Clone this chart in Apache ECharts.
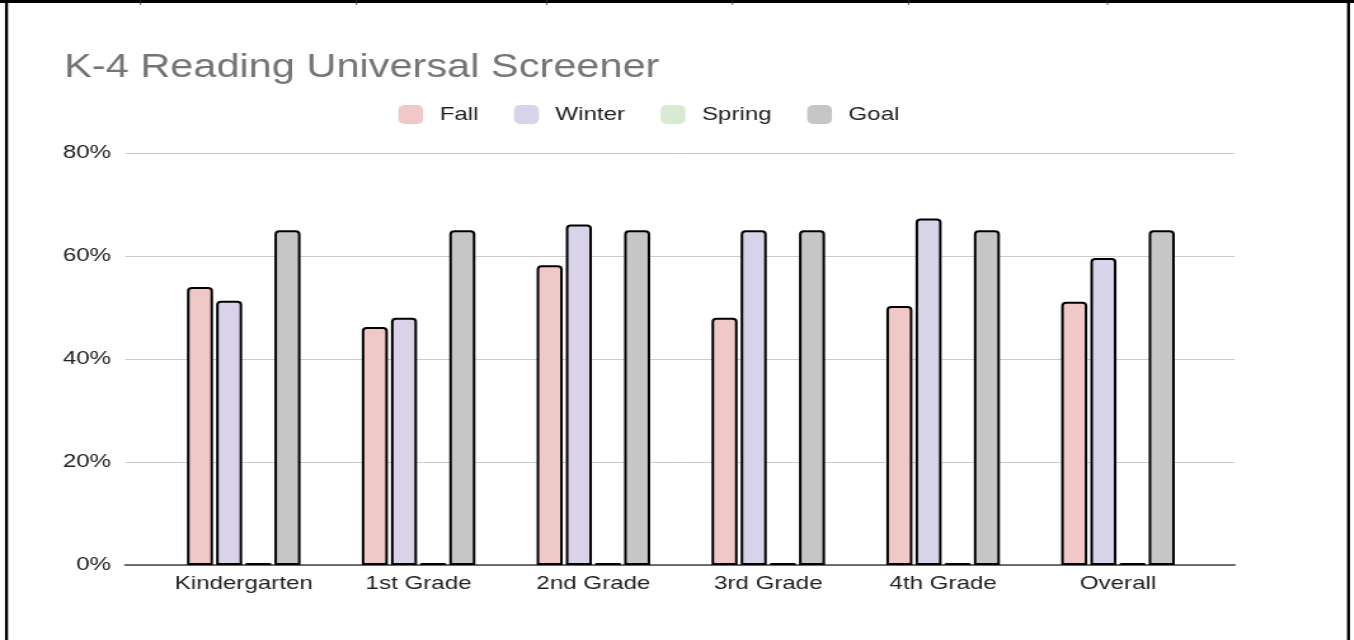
<!DOCTYPE html>
<html>
<head>
<meta charset="utf-8">
<script src="https://cdn.jsdelivr.net/npm/echarts@6/dist/echarts.min.js"></script>
<style>
html, body { margin: 0; padding: 0; background: #fff; overflow: hidden; }
#chart { height: 640px; transform-origin: 0 0; }
</style>
</head>
<body>
<div id="chart"></div>
<script>
// ---- data ----
const title = 'K-4 Reading Universal Screener';
const categories = ['Kindergarten', '1st Grade', '2nd Grade', '3rd Grade', '4th Grade', 'Overall'];
const seriesNames = ['Fall', 'Winter', 'Spring', 'Goal'];
const fall = [54.0, 46.2, 58.2, 48.0, 50.3, 51.1];
const winter = [51.3, 48.0, 66.1, 65.0, 67.3, 59.6];
const spring = [0.4, 0.4, 0.4, 0.4, 0.4, 0.4];
const goal = [65, 65, 65, 65, 65, 65];
const yTicks = [0, 20, 40, 60, 80];

// ---- layout (reference image is horizontally stretched) ----
const S = 1.27;
const W = 1354 / S;
const el = document.getElementById('chart');
el.style.width = W + 'px';
el.style.transform = 'scaleX(' + S + ')';

const colors = ['#f0c8c8', '#d8d3e8', '#d9ead3', '#c6c6c6'];
const values = [fall, winter, spring, goal];
const font = 'Liberation Sans, Arial, sans-serif';

const chart = echarts.init(el, null, { renderer: 'canvas', width: W, height: 640 });

const series = seriesNames.map((name, i) => ({
  name: name,
  type: 'bar',
  xAxisIndex: 1,
  yAxisIndex: 1,
  data: values[i],
  barWidth: 20.5,
  barGap: '12%',
  itemStyle: {
    color: colors[i],
    borderColor: '#000',
    borderWidth: 2,
    borderRadius: [3, 3, 0, 0]
  },
  emphasis: { disabled: true }
}));

chart.setOption({
  animation: false,
  backgroundColor: '#fff',
  title: {
    text: title,
    left: 45.5,
    top: 46.5,
    textStyle: { fontFamily: font, fontSize: 32.7, fontWeight: 'normal', color: '#757575' }
  },
  legend: {
    data: seriesNames.map((n, i) => ({ name: n, itemStyle: { color: colors[i], borderWidth: 0 } })),
    left: 392 / S,
    top: 100,
    icon: 'roundRect',
    itemWidth: 19.5,
    itemHeight: 19,
    itemGap: 28,
    selectedMode: false,
    textStyle: { fontFamily: font, fontSize: 19, color: '#222', padding: [0, 0, 0, 8] }
  },
  grid: [
    { left: 125 / S, right: (1354 - 1235) / S, top: 153, bottom: 75 },
    { left: 156.3 / S, right: (1354 - 1205.4) / S, top: 153, bottom: 75 }
  ],
  xAxis: [
    {
      gridIndex: 0, type: 'value', min: 0, max: 1,
      axisLine: { show: true, onZero: false, lineStyle: { color: '#444', width: 1.5 } },
      axisTick: { show: false }, axisLabel: { show: false }, splitLine: { show: false }
    },
    {
      gridIndex: 1, type: 'category', data: categories,
      axisLine: { show: false }, axisTick: { show: false },
      axisLabel: { interval: 0, fontFamily: font, fontSize: 19, color: '#222', margin: 9 }
    }
  ],
  yAxis: [
    {
      gridIndex: 0, type: 'value', min: yTicks[0], max: yTicks[yTicks.length - 1], interval: 20,
      axisLine: { show: false }, axisTick: { show: false },
      axisLabel: { fontFamily: font, fontSize: 19, color: '#222', margin: 11, formatter: '{value}%' },
      splitLine: { lineStyle: { color: '#cccccc', width: 1 } }
    },
    {
      gridIndex: 1, type: 'value', min: yTicks[0], max: yTicks[yTicks.length - 1], interval: 20,
      show: false, splitLine: { show: false }
    }
  ],
  graphic: [
    { type: 'rect', shape: { x: 0, y: 0, width: W, height: 3 }, style: { fill: '#000' }, silent: true },
    { type: 'rect', shape: { x: 5 / S, y: 0, width: 3 / S, height: 640 }, style: { fill: '#000' }, silent: true },
    { type: 'rect', shape: { x: 1347 / S, y: 0, width: 3 / S, height: 640 }, style: { fill: '#000' }, silent: true }
  ].concat([140, 356, 546, 732, 908, 1107].map(x => ({
    type: 'rect', shape: { x: x / S, y: 0, width: 1 / S, height: 5 }, style: { fill: '#333' }, silent: true
  }))),
  series: series
});
</script>
</body>
</html>
